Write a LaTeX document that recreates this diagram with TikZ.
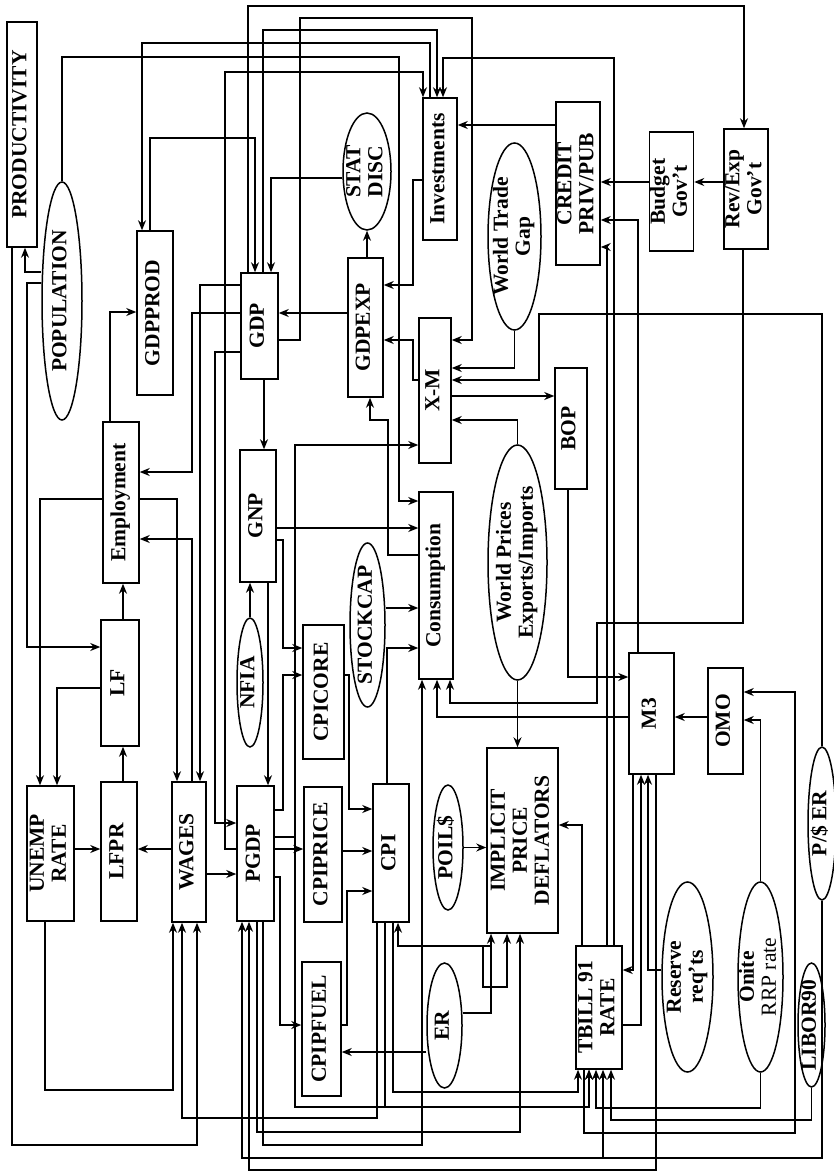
\documentclass[tikz,border=0pt]{standalone}
\usepackage{fontspec}
\setmainfont{Liberation Serif}
\usetikzlibrary{shapes.geometric,arrows.meta}

\newcommand{\vlab}[1]{\rotatebox{90}{\begin{tabular}{@{}c@{}}#1\end{tabular}}}

\tikzset{
  box/.style={draw,line width=1.5pt,inner sep=0pt},
  oval/.style={ellipse,draw,line width=1.5pt,inner sep=0pt},
  arr/.style={line width=1.35pt,-{Stealth[length=10pt,width=8pt]}},
  wire/.style={line width=1.35pt},
}

\begin{document}
\begin{tikzpicture}[x=1pt,y=-1pt,font=\bfseries\fontsize{21.5}{22}\selectfont]
\useasboundingbox (0,0) rectangle (834,1174);
\fill[white] (0,0) rectangle (834,1174);

% blocks and ovals
\node[box,minimum width=30pt,minimum height=225pt] (PROD) at (22,134.5) {\vlab{PRODUCTIVITY}};
\node[oval,minimum width=40pt,minimum height=238pt] (POP) at (62,301) {};
\node at (POP) {\vlab{POPULATION}};
\node[box,minimum width=36pt,minimum height=164pt] (GDPPROD) at (155,313) {\vlab{GDPPROD}};
\node[box,minimum width=37pt,minimum height=106pt] (GDP) at (259.5,326) {\vlab{GDP}};
\node[box,minimum width=36pt,minimum height=161pt] (EMP) at (121,502.5) {\vlab{Employment}};
\node[box,minimum width=36pt,minimum height=132pt] (GNP) at (258,516) {\vlab{GNP}};
\node[box,minimum width=38pt,minimum height=126pt] (LF) at (120,683) {\vlab{LF}};
\node[box,minimum width=47pt,minimum height=135pt] (UNEMP) at (50.5,853.5) {\vlab{UNEMP\\RATE}};
\node[box,minimum width=36pt,minimum height=139pt] (LFPR) at (119,851.5) {\vlab{LFPR}};
\node[box,minimum width=34pt,minimum height=140pt] (WAGES) at (189,852) {\vlab{WAGES}};
\node[box,minimum width=37pt,minimum height=135pt] (PGDP) at (255.5,853.5) {\vlab{PGDP}};
\node[oval,minimum width=26pt,minimum height=129pt] (NFIA) at (250,682.5) {};
\node at (NFIA) {\vlab{NFIA}};
\node[box,minimum width=41pt,minimum height=134pt] (CPICORE) at (323.5,692) {\vlab{CPICORE}};
\node[oval,minimum width=35pt,minimum height=164pt] (STOCK) at (367.5,625) {};
\node at (STOCK) {\vlab{STOCKCAP}};
\node[box,minimum width=34pt,minimum height=187pt] (CONS) at (436,585.5) {\vlab{Consumption}};
\node[oval,minimum width=59pt,minimum height=235pt] (WP) at (517.5,562.5) {};
\node at (WP) {\vlab{World Prices\\Exports/Imports}};
\node[box,minimum width=32pt,minimum height=145pt] (XM) at (435,390.5) {\vlab{X-M}};
\node[box,minimum width=35pt,minimum height=139pt] (GDPEXP) at (365.5,327.5) {\vlab{GDPEXP}};
\node[oval,minimum width=48pt,minimum height=117pt] (STAT) at (367,171.5) {};
\node at (STAT) {\vlab{STAT\\DISC}};
\node[box,minimum width=34pt,minimum height=142pt] (INV) at (440,169) {\vlab{Investments}};
\node[oval,minimum width=53pt,minimum height=187pt] (WTG) at (514.5,236.5) {};
\node at (WTG) {\vlab{World Trade\\Gap}};
\node[box,minimum width=42pt,minimum height=163pt] (CREDIT) at (578,183.5) {\vlab{CREDIT\\PRIV/PUB}};
\node[box,minimum width=43pt,minimum height=119pt] (BUDGET) at (671.5,191.5) {\vlab{Budget\\Gov’t}};
\node[box,minimum width=44pt,minimum height=120pt] (REVEXP) at (746,189) {\vlab{Rev/Exp\\Gov’t}};
\node[box,minimum width=32pt,minimum height=121pt] (BOP) at (571,428.5) {\vlab{BOP}};
\node[box,minimum width=45pt,minimum height=121pt] (M3) at (651.5,713.5) {\vlab{M3}};
\node[box,minimum width=35pt,minimum height=106pt] (OMO) at (725.5,721) {\vlab{OMO}};
\node[oval,minimum width=28pt,minimum height=153pt] (PER) at (822,823.5) {};
\node at (PER) {\vlab{P/\$ ER}};
\node[box,minimum width=71pt,minimum height=185pt] (IMPL) at (522.5,840.5) {\vlab{IMPLICIT\\PRICE\\DEFLATORS}};
\node[oval,minimum width=30pt,minimum height=125pt] (POIL) at (448,847.5) {};
\node at (POIL) {\vlab{POIL\$}};
\node[box,minimum width=36pt,minimum height=138pt] (CPI) at (391,853) {\vlab{CPI}};
\node[box,minimum width=38pt,minimum height=135pt] (CPIPRICE) at (323,854.5) {\vlab{CPIPRICE}};
\node[box,minimum width=39pt,minimum height=134pt] (CPIPFUEL) at (321.5,1029) {\vlab{CPIPFUEL}};
\node[oval,minimum width=35pt,minimum height=125pt] (ER) at (444.5,1025.5) {};
\node at (ER) {\vlab{ER}};
\node[box,minimum width=46pt,minimum height=123pt] (TBILL) at (599,1007.5) {\vlab{TBILL 91\\RATE}};
\node[oval,minimum width=51pt,minimum height=190pt] (RES) at (687.5,977) {};
\node at (RES) {\vlab{Reserve\\req’ts}};
\node[oval,minimum width=45pt,minimum height=190pt] (ONITE) at (760.5,977) {};
\node at (ONITE) {\vlab{Onite\\\mdseries RRP rate}};
\node[oval,minimum width=27pt,minimum height=124pt] (LIBOR) at (811.5,1025) {};
\node at (LIBOR) {\vlab{LIBOR90}};

% left side
\draw[arr] (POP.west |- 0,272) -| (PROD.south -| 25,0);
\draw[arr] (PROD.south -| 12,0) -- (12,1145) -| (WAGES.south -| 197,0);
\draw[arr] (POP.west |- 0,283) -| (27,647) -- (LF.west |- 0,647);
\draw[arr] (POP.north) |- (399,57) -- (399,501) -- (CONS.west |- 0,501);
\draw[arr] (EMP.north -| 110,0) |- (GDPPROD.west |- 0,312);
\draw[arr] (GDP.west |- 0,313) -| (192,472) -- (EMP.east |- 0,472);
\draw[arr] (EMP.west |- 0,499) -| (UNEMP.north -| 40,0);
\draw[arr] (LF.west |- 0,688) -| (UNEMP.north -| 57,0);
\draw[arr] (EMP.east |- 0,499) -| (WAGES.north -| 177,0);
\draw[arr] (WAGES.north -| 192,0) |- (EMP.east |- 0,539);
\draw[arr] (GDP.west |- 0,285) -| (WAGES.north -| 200,0);
\draw[arr] (GDP.west |- 0,352) -| (215,823) -- (PGDP.west |- 0,823);
\draw[arr] (PGDP.west |- 0,849) -| (225,72) -| (INV.north -| 423,0);
\draw[arr] (LFPR.north -| 123,0) -- (LF.south -| 123,0);
\draw[arr] (LF.north -| 123,0) -- (EMP.south -| 123,0);
\draw[arr] (UNEMP.east |- 0,849) -- (LFPR.west |- 0,849);
\draw[arr] (WAGES.west |- 0,849) -- (LFPR.east |- 0,849);
\draw[arr] (WAGES.east |- 0,874) -- (PGDP.west |- 0,874);
\draw[arr] (UNEMP.south -| 45,0) |- (173,1090) -- (WAGES.south -| 173,0);
\draw[arr] (CPI.south -| 377,0) |- (182,1118) -- (WAGES.south -| 182,0);

% GDP column
\draw[arr] (GDP.south -| 264,0) -- (GNP.north -| 264,0);
\draw[arr] (NFIA.north) -- (GNP.south -| NFIA.north);
\draw[arr] (GNP.south -| 268,0) -- (PGDP.north -| 268,0);
\draw[arr] (PGDP.south -| 257,0) |- (520,1132) -- (IMPL.south -| 520,0);
\draw[arr] (PGDP.south -| 263,0) |- (422,1145) -- (CONS.south -| 422,0);
\draw[arr] (PER.south) |- (242,1158) -- (PGDP.south -| 242,0);
\draw[arr] (PER.south) |- (603,1158) -- (TBILL.south -| 603,0);
\draw[arr] (M3.south -| 656,0) |- (249,1170) -- (PGDP.south -| 249,0);

% top
\draw[arr] (GDP.north -| 248,0) |- (744,6) -- (REVEXP.north -| 744,0);
\draw[arr] (GDPPROD.north -| 150,0) |- (255,138) -- (GDP.north -| 255,0);
\draw[arr] (GDP.north -| 263,0) |- (437,30) -- (INV.north -| 437,0);
\draw[arr] (INV.north -| 430,0) |- (142,43) -- (GDPPROD.north -| 142,0);
\draw[arr] (STAT.west |- 0,178) -| (GDP.north -| 271,0);
\draw[arr] (TBILL.north -| 614,0) |- (443,58) -- (INV.north -| 443,0);
\draw[arr] (TBILL.north -| 607,0) |- (CREDIT.east |- 0,247);
\draw[arr] (M3.north -| 638,0) |- (CREDIT.east |- 0,220);
\draw[arr] (CREDIT.west |- 0,125) -- (INV.east |- 0,125);
\draw[arr] (BUDGET.west |- 0,182) -- (CREDIT.east |- 0,182);
\draw[arr] (REVEXP.west |- 0,182) -- (BUDGET.east |- 0,182);
\draw[arr] (REVEXP.south -| 743,0) |- (597,623) -- (597,703) -| (CONS.south -| 450,0);
\draw[arr] (M3.west |- 0,717) -| (CONS.south -| 437,0);
\draw[arr] (BOP.south -| 568,0) |- (M3.west |- 0,677);

% expenditure side
\draw[arr] (INV.west |- 0,180) -| (413,285) -- (GDPEXP.east |- 0,285);
\draw[arr] (XM.west |- 0,380) -| (413,340) -- (GDPEXP.east |- 0,340);
\draw[arr] (CONS.west |- 0,555) -| (388,420) -| (GDPEXP.south -| 370,0);
\draw[arr] (GDPEXP.west |- 0,313) -- (GDP.east |- 0,313);
\draw[arr] (GDPEXP.north -| STAT.south) -- (STAT.south);
\draw[arr] (XM.east |- 0,396) -- (BOP.west |- 0,396);
\draw[arr] (WP.north) |- (XM.east |- 0,420);
\draw[arr] (WTG.south) |- (XM.east |- 0,368);
\draw[arr] (PER.north) |- (539,314) -- (539,380) -- (XM.east |- 0,380);
\draw[arr] (GDP.east |- 0,340) -| (300,18) -| (472,340) -- (XM.east |- 0,340);

% prices
\draw[arr] (GNP.east |- 0,528) -- (CONS.west |- 0,528);
\draw[arr] (GNP.east |- 0,540) -| (283,648) -- (CPICORE.west |- 0,648);
\draw[arr] (PGDP.east |- 0,810) -| (283,675) -- (CPICORE.west |- 0,675);
\draw[arr] (PGDP.east |- 0,837) -| (295,445) -- (XM.west |- 0,445);
\draw[arr] (PGDP.east |- 0,837) -| (295,1107) -| (TBILL.south -| 589,0);
\draw[arr] (CPI.south -| 385,0) |- (589,1107) -- (TBILL.south -| 589,0);
\draw[arr] (STOCK.east |- 0,608) -- (CONS.west |- 0,608);
\draw[arr] (CPI.north -| 387,0) |- (CONS.west |- 0,648);
\draw[arr] (CPICORE.east |- 0,675) -| (349,809) -- (CPI.west |- 0,809);
\draw[arr] (CPIPRICE.east |- 0,851) -- (CPI.west |- 0,851);
\draw[arr] (PGDP.east |- 0,849) -- (CPIPRICE.west |- 0,849);
\draw[arr] (PGDP.east |- 0,877) -| (280,1025) -- (CPIPFUEL.west |- 0,1025);
\draw[arr] (CPIPFUEL.east |- 0,1025) -| (347,891) -- (CPI.west |- 0,891);
\draw[arr] (ER.west |- 0,1052) -- (CPIPFUEL.east |- 0,1052);
\draw[arr] (ER.east |- 0,1013) -| (491,946) -| (CPI.south -| 398,0);
\draw[arr] (ER.east |- 0,1013) -| (IMPL.south -| 491,0);
\coordinate (erk) at (483,946);
\draw[arr] (erk) |- (507,987) -- (IMPL.south -| 507,0);
\draw[arr] (WP.south) -- (IMPL.north -| WP.south);
\draw[arr] (POIL.east) -- (IMPL.west |- POIL.east);

% money and rates
\draw[arr] (TBILL.north -| 582,0) |- (IMPL.east |- 0,825);
\draw[arr] (CPI.south -| 393,0) |- (578,1092) -- (TBILL.south -| 578,0);
\draw[arr] (ONITE.south) |- (596,1108) -- (TBILL.south -| 596,0);
\draw[arr] (LIBOR.south) |- (611,1120) -- (TBILL.south -| 611,0);
\draw[arr] (TBILL.south -| 584,0) |- (795,1133) -- (795,692) -- (OMO.east |- 0,692);
\draw[arr] (ONITE.north) |- (OMO.east |- 0,720);
\draw[arr] (OMO.west |- 0,717) -- (M3.east |- 0,717);
\draw[arr] (RES.west |- 0,970) -| (M3.south -| 648,0);
\draw[arr] (TBILL.east |- 0,1025) -| (M3.south -| 641,0);
\draw[arr] (M3.south -| 633,0) |- (TBILL.east |- 0,970);
\end{tikzpicture}
\end{document}
